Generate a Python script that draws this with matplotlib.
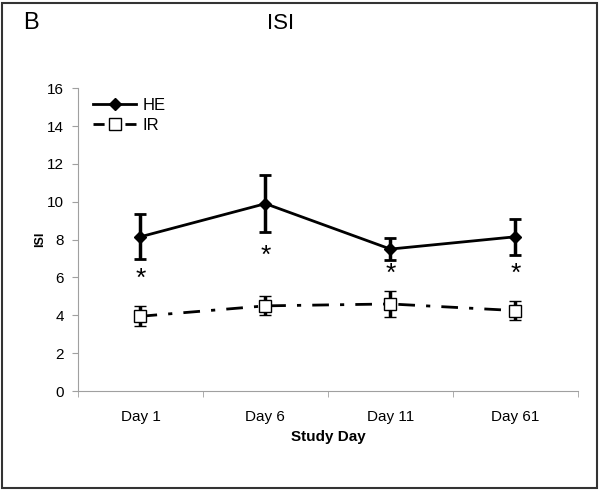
import matplotlib
matplotlib.use("Agg")
import matplotlib.pyplot as plt
from matplotlib.patches import Rectangle
from matplotlib.lines import Line2D

plt.rcParams['font.family'] = ['Liberation Sans', 'DejaVu Sans']

days = ["Day 1", "Day 6", "Day 11", "Day 61"]
he_mean = [8.15, 9.9, 7.5, 8.15]
he_err = [1.2, 1.5, 0.6, 0.95]
ir_mean = [3.95, 4.5, 4.6, 4.25]
ir_err = [0.52, 0.5, 0.68, 0.48]
star_y = [5.9, 7.15, 6.2, 6.2]

fig = plt.figure(figsize=(6, 4.9), dpi=100)
ax = fig.add_axes([0.13, 0.202, 0.833, 0.618])
x = list(range(len(days)))

ir_ls = (0, (6, 4, 1.5, 4))
ax.errorbar(x, he_mean, yerr=he_err, color='black', lw=2, marker='D', ms=6,
            mfc='black', capsize=4, capthick=2, elinewidth=2.5, zorder=3)
ax.errorbar(x, ir_mean, yerr=ir_err, color='black', lw=2, linestyle=ir_ls,
            marker='s', ms=8, mfc='white', mec='black', mew=1, capsize=4, capthick=2,
            elinewidth=2.5, zorder=3)
for xi, yi in zip(x, star_y):
    ax.text(xi, yi, '*', ha='center', va='center', fontsize=19)

ax.set_xlim(-0.5, 3.5)
ax.set_ylim(0, 16)
ax.set_yticks(range(0, 17, 2))
ax.set_xticks(x)
ax.set_xticklabels(days)
ax.set_xticks([-0.5, 0.5, 1.5, 2.5, 3.5], minor=True)
ax.tick_params(axis='x', which='major', length=0, pad=14, labelsize=11)
ax.tick_params(axis='x', which='minor', length=4, color='#a0a0a0', direction='out')
ax.tick_params(axis='y', length=4, color='#a0a0a0', direction='out', labelsize=11, pad=6)
for s in ['top', 'right']:
    ax.spines[s].set_visible(False)
for s in ['left', 'bottom']:
    ax.spines[s].set_color('#a0a0a0')
ax.set_xlabel('Study Day', fontweight='bold', fontsize=11, labelpad=4)
ax.set_ylabel('ISI', fontweight='bold', fontsize=9, labelpad=1)

handles = [Line2D([], [], color='black', lw=2, marker='D', ms=6, mfc='black'),
           Line2D([], [], color='black', lw=2, linestyle=(0, (4, 3, 1.5, 3)), marker='s',
                  ms=8, mfc='white', mec='black', mew=1)]
ax.legend(handles, ['HE', 'IR'], loc='upper left', bbox_to_anchor=(0.01, 1.0), frameon=False,
          fontsize=12, handlelength=2.6, handletextpad=0.4, labelspacing=0.3, borderaxespad=0.2)

fig.text(0.038, 0.953, 'B', fontsize=17, va='center', ha='left')
fig.text(0.467, 0.953, 'ISI', fontsize=16, va='center', ha='center')
fig.patches.append(Rectangle((0.003, 0.004), 0.992, 0.99, transform=fig.transFigure,
                             fill=False, edgecolor='#333333', lw=1.5))

fig.savefig('out.png', dpi=100)
